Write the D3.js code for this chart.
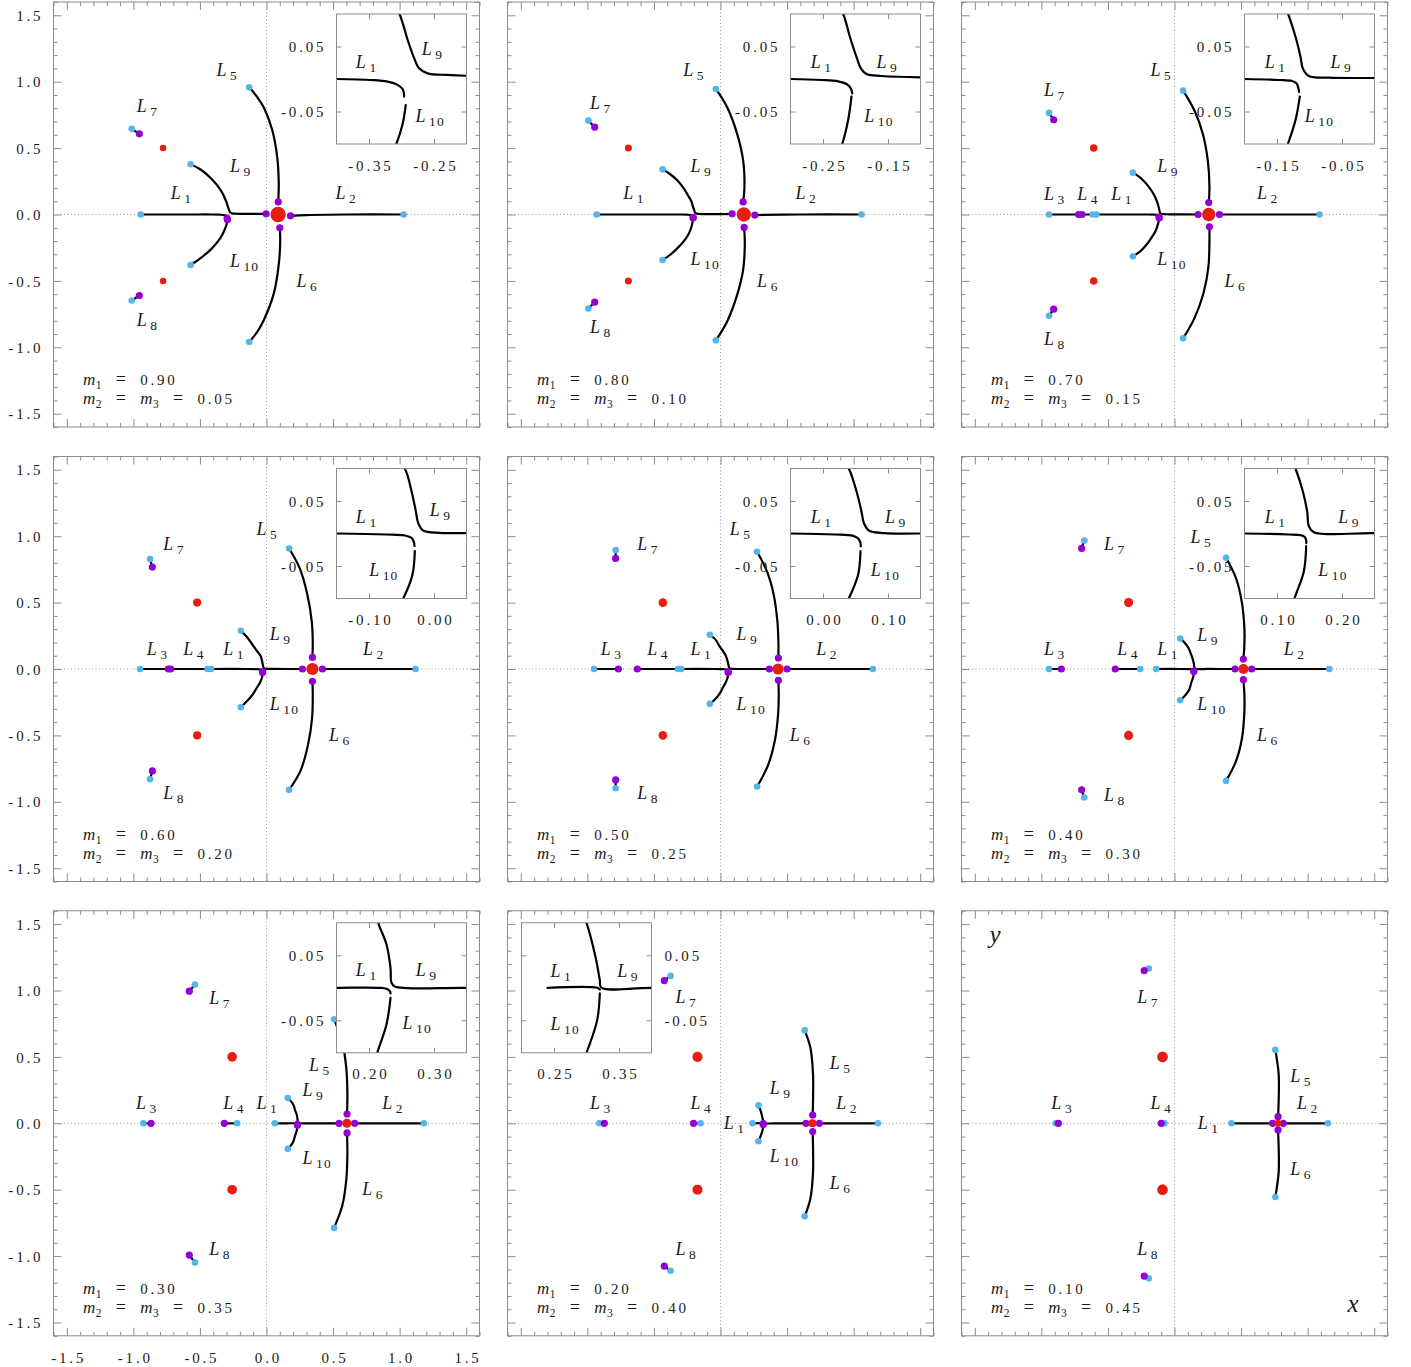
<!DOCTYPE html>
<html>
<head>
<meta charset="utf-8">
<script src="https://cdn.jsdelivr.net/npm/d3@7"></script>
<style>
  body { margin: 0; background: #fff; }
  text { font-family: "Liberation Serif", "Times New Roman", serif; fill: #1a1a1a; }
  .tickText { font-size: 15px; letter-spacing: 2.8px; }
  .lab { font-size: 18px; }
  .zero { stroke: #9a9a9a; stroke-width: 1; stroke-dasharray: 1 2.5; }
  .frame { fill: none; stroke: #8c8c8c; stroke-width: 1; }
  .ticks line { stroke: #8c8c8c; stroke-width: 1; }
  .ticks path { display: none; }
  .locus { fill: none; stroke: #000; stroke-width: 2.2; stroke-linecap: round; stroke-linejoin: round; }
</style>
</head>
<body>
<svg id="chart" width="1411" height="1367"></svg>
<script>
// ---------------------------------------------------------------
// Equilibrium points of the four-body problem (three primaries in
// a Lagrangian triangle).  Nine cases of the mass ratio; in each the
// locus of every equilibrium runs from its classical position (blue)
// to its final position (purple).
// ---------------------------------------------------------------

// primary masses of each panel
const massM1  = [0.90, 0.80, 0.70, 0.60, 0.50, 0.40, 0.30, 0.20, 0.10];
const massM23 = [0.05, 0.10, 0.15, 0.20, 0.25, 0.30, 0.35, 0.40, 0.45];

// positions of the primaries: m1 on the x-axis, m2 and m3 at y = +/-0.5
const primaryM1X  = [0.087, 0.175, 0.257, 0.345, 0.432, 0.518, 0.604, 0.691, 0.777];
const primaryM23X = [-0.777, -0.692, -0.607, -0.521, -0.433, -0.345, -0.258, -0.173, -0.090];
const primaryM23Y = [0.5, -0.5];

// loci of the equilibrium points, one entry per panel (null = absent)
const L1 = [
  [[-0.945,0],[-0.6,0],[-0.4,0],[-0.347,-0.0015],[-0.3215,-0.004],[-0.306,-0.009],[-0.298,-0.016],[-0.296,-0.027]],
  [[-0.93,0],[-0.6,0],[-0.3,0],[-0.2523,-0.0015],[-0.2267,-0.0036],[-0.2138,-0.0077],[-0.2072,-0.0144],[-0.2051,-0.022]],
  [[-0.5875,0],[-0.3,0],[-0.2,0],[-0.1472,-0.0015],[-0.1267,-0.0031],[-0.12,-0.0067],[-0.1174,-0.0128],[-0.116,-0.02]],
  [[-0.4175,0],[-0.15,0],[-0.0731,-0.0015],[-0.0449,-0.0031],[-0.0346,-0.0067],[-0.031,-0.0128],[-0.03,-0.019]],
  [[-0.295,0],[-0.05,0],[0.0182,-0.0015],[0.0464,-0.0036],[0.0541,-0.0077],[0.0577,-0.0144],[0.058,-0.02]],
  [[-0.1375,0],[0.05,0],[0.1182,-0.0015],[0.1362,-0.0026],[0.1428,-0.0056],[0.1449,-0.0103],[0.145,-0.015]],
  [[0.0625,0],[0.15,0],[0.2167,0],[0.2269,-0.0015],[0.2321,-0.0051],[0.2331,-0.0087]],
  [[0.24,0],[0.3164,0],[0.3205,-0.0026]],
  [[0.4275,0],[0.7375,0]]
];
const L2 = [
  [[1.03,0],[0.6,0],[0.3,-0.004],[0.18,-0.01]],
  [[1.06,0],[0.6,0],[0.2575,-0.004]],
  [[1.09,0],[0.6,0],[0.3375,0]],
  [[1.12,0],[0.42,0]],
  [[1.145,0],[0.5,0]],
  [[1.1625,0],[0.58,0]],
  [[1.1825,0],[0.6625,0]],
  [[1.1825,0],[0.7425,0]],
  [[1.1525,0],[0.8175,0]]
];
const L3 = [
  null, null,
  [[-0.9425,0],[-0.72,0]],
  [[-0.95,0],[-0.7375,0]],
  [[-0.95,0],[-0.7675,0]],
  [[-0.9425,0],[-0.85,0]],
  [[-0.925,0],[-0.8675,0]],
  [[-0.91,0],[-0.8725,0]],
  [[-0.8925,0],[-0.8725,0]]
];
const L4 = [
  null, null,
  [[-0.615,0],[-0.695,0]],
  [[-0.4425,0],[-0.72,0]],
  [[-0.32,0],[-0.625,0]],
  [[-0.2575,0],[-0.445,0]],
  [[-0.22,0],[-0.3175,0]],
  [[-0.15,0],[-0.2025,0]],
  [[-0.075,0],[-0.1,0]]
];
const L5 = [
  [[-0.13,0.958],[-0.07,0.885],[-0.02,0.806],[0.043,0.636],[0.08,0.436],[0.092,0.236],[0.088,0.095]],
  [[-0.035,0.945],[0.05,0.8075],[0.125,0.6075],[0.17,0.4075],[0.18,0.2075],[0.17,0.095]],
  [[0.065,0.9325],[0.15,0.7825],[0.2125,0.6075],[0.25,0.4075],[0.2625,0.2075],[0.2575,0.09]],
  [[0.17,0.9075],[0.25,0.7575],[0.3075,0.5575],[0.34,0.3575],[0.3475,0.2075],[0.345,0.0875]],
  [[0.275,0.8825],[0.35,0.7325],[0.4,0.5575],[0.4275,0.3575],[0.435,0.2075],[0.435,0.0825]],
  [[0.3875,0.8375],[0.4625,0.6825],[0.505,0.5075],[0.525,0.3075],[0.525,0.1825],[0.5175,0.075]],
  [[0.5075,0.7825],[0.57,0.6075],[0.6,0.4075],[0.6075,0.2325],[0.605,0.07]],
  [[0.6325,0.7],[0.675,0.57],[0.695,0.37],[0.695,0.17],[0.6925,0.0625]],
  [[0.7575,0.5525],[0.7825,0.37],[0.7825,0.17],[0.7775,0.05]]
];
const L6 = [
  [[-0.13,-0.96],[-0.07,-0.884],[-0.02,-0.794],[0.055,-0.594],[0.093,-0.368],[0.103,-0.2],[0.1,-0.1]],
  [[-0.035,-0.9475],[0.05,-0.805],[0.125,-0.605],[0.17,-0.4175],[0.1825,-0.2175],[0.1775,-0.0975]],
  [[0.065,-0.9325],[0.15,-0.78],[0.2175,-0.5925],[0.255,-0.3925],[0.2625,-0.1925],[0.2625,-0.0925]],
  [[0.17,-0.91],[0.255,-0.7675],[0.3125,-0.5675],[0.3425,-0.3675],[0.3475,-0.1925],[0.345,-0.0925]],
  [[0.275,-0.885],[0.355,-0.73],[0.4075,-0.5425],[0.4325,-0.3425],[0.4375,-0.1925],[0.435,-0.085]],
  [[0.3875,-0.8425],[0.4625,-0.6925],[0.5075,-0.5175],[0.525,-0.3175],[0.525,-0.1925],[0.5175,-0.08]],
  [[0.5075,-0.7875],[0.57,-0.6175],[0.6,-0.4175],[0.6075,-0.2425],[0.605,-0.0725]],
  [[0.6325,-0.7],[0.675,-0.5675],[0.695,-0.3675],[0.695,-0.18],[0.6925,-0.0625]],
  [[0.7575,-0.555],[0.7825,-0.3675],[0.7825,-0.18],[0.7775,-0.05]]
];
const L7 = [
  [[-1.0125,0.645],[-0.955,0.6075]],
  [[-0.9925,0.7075],[-0.945,0.6575]],
  [[-0.9425,0.765],[-0.9075,0.7125]],
  [[-0.875,0.8275],[-0.8575,0.7675]],
  [[-0.7875,0.895],[-0.7875,0.8325]],
  [[-0.6775,0.9675],[-0.6975,0.9075]],
  [[-0.5375,1.045],[-0.58,0.995]],
  [[-0.375,1.11],[-0.4225,1.075]],
  [[-0.1925,1.165],[-0.2275,1.15]]
];
const L8 = [
  [[-1.0125,-0.6475],[-0.955,-0.61]],
  [[-0.9925,-0.7075],[-0.945,-0.66]],
  [[-0.9425,-0.7625],[-0.9075,-0.7125]],
  [[-0.875,-0.83],[-0.8575,-0.7675]],
  [[-0.7875,-0.8975],[-0.7875,-0.835]],
  [[-0.6775,-0.9675],[-0.6975,-0.91]],
  [[-0.5375,-1.0475],[-0.58,-0.9925]],
  [[-0.375,-1.11],[-0.4225,-1.075]],
  [[-0.1925,-1.1675],[-0.2275,-1.15]]
];
const L9 = [
  [[-0.57,0.378],[-0.49,0.335],[-0.41,0.265],[-0.345,0.185],[-0.303,0.1],[-0.2905,0.06],[-0.2805,0.032],[-0.273,0.0164],[-0.26,0.0087],[-0.23,0.0062],[-0.2,0.005],[-0.1,0.005],[-0.003,0.005]],
  [[-0.435,0.34],[-0.38,0.305],[-0.325,0.2575],[-0.275,0.195],[-0.2375,0.1325],[-0.219,0.1],[-0.2087,0.065],[-0.1985,0.034],[-0.1918,0.0164],[-0.1831,0.0077],[-0.16,0.0046],[-0.1,0.0026],[0.0875,0.005]],
  [[-0.3125,0.315],[-0.26,0.28],[-0.2125,0.2325],[-0.17,0.175],[-0.145,0.13],[-0.1328,0.1],[-0.1215,0.065],[-0.1138,0.034],[-0.1103,0.0164],[-0.101,0.0046],[-0.07,0.002],[0.0,0.0015],[0.1775,0.0]],
  [[-0.1925,0.2875],[-0.15,0.245],[-0.11,0.19],[-0.075,0.14],[-0.0449,0.1],[-0.0346,0.0651],[-0.028,0.0344],[-0.0244,0.0164],[-0.0167,0.0046],[0.009,0.001],[0.05,0.0005],[0.27,0.0]],
  [[-0.08,0.2575],[-0.04,0.225],[-0.0125,0.18],[0.015,0.14],[0.0397,0.1],[0.0515,0.065],[0.0592,0.034],[0.0628,0.0164],[0.0705,0.0046],[0.0951,0.0005],[0.15,0],[0.3675,0]],
  [[0.0425,0.23],[0.075,0.2],[0.105,0.1575],[0.1285,0.1],[0.1397,0.065],[0.1464,0.034],[0.149,0.0113],[0.1567,0.0021],[0.25,0.0005],[0.455,0]],
  [[0.16,0.19],[0.185,0.165],[0.205,0.1325],[0.2141,0.1],[0.2269,0.0667],[0.2331,0.0308],[0.2346,0.0077],[0.2397,0.0021],[0.35,0],[0.545,0]],
  [[0.285,0.135],[0.3,0.1],[0.3138,0.0477],[0.3205,0.0118],[0.3226,0.0005],[0.4,0],[0.6425,0]],
  null
];
const L10 = [
  [[-0.57,-0.38],[-0.49,-0.325],[-0.41,-0.255],[-0.345,-0.175],[-0.308,-0.1],[-0.298,-0.068],[-0.2935,-0.04]],
  [[-0.435,-0.3425],[-0.38,-0.305],[-0.325,-0.255],[-0.275,-0.2],[-0.2375,-0.1425],[-0.2205,-0.1],[-0.2113,-0.063],[-0.2062,-0.027]],
  [[-0.3125,-0.315],[-0.26,-0.28],[-0.2125,-0.23],[-0.17,-0.17],[-0.145,-0.13],[-0.1333,-0.1],[-0.1215,-0.063],[-0.1149,-0.027]],
  [[-0.1925,-0.2875],[-0.15,-0.245],[-0.1075,-0.1975],[-0.075,-0.145],[-0.0474,-0.1],[-0.0331,-0.063],[-0.0295,-0.027]],
  [[-0.08,-0.2625],[-0.04,-0.228],[-0.0075,-0.1875],[0.018,-0.14],[0.0397,-0.1],[0.0541,-0.063],[0.0577,-0.027]],
  [[0.0425,-0.235],[0.075,-0.205],[0.1075,-0.1625],[0.1269,-0.1],[0.1413,-0.058],[0.1449,-0.0195]],
  [[0.16,-0.1925],[0.185,-0.165],[0.2025,-0.135],[0.2126,-0.1],[0.2269,-0.0564],[0.2331,-0.0154]],
  [[0.285,-0.135],[0.3,-0.1],[0.3164,-0.0497],[0.3205,-0.0087]],
  null
];

// axis ticks and tick labels
const majorTicks = [-1.5, -1.0, -0.5, 0.0, 0.5, 1.0, 1.5];
const minorTicks = [-1.6,-1.4,-1.3,-1.2,-1.1,-0.9,-0.8,-0.7,-0.6,-0.4,-0.3,-0.2,-0.1,
                    0.1,0.2,0.3,0.4,0.6,0.7,0.8,0.9,1.1,1.2,1.3,1.4,1.6];
// tick labels of the zoomed windows around L1 / L9 / L10
const insetXTicks = [[-0.35,-0.25],[-0.25,-0.15],[-0.15,-0.05],[-0.10,0.00],
                     [0.00,0.10],[0.10,0.20],[0.20,0.30],[0.25,0.35],null];
const insetYTicks = [0.05, -0.05];

// ---------------------------------------------------------------
// layout
// ---------------------------------------------------------------
const loci = [
  {n:"1",pts:L1},{n:"2",pts:L2},{n:"3",pts:L3},{n:"4",pts:L4},{n:"5",pts:L5},
  {n:"6",pts:L6},{n:"7",pts:L7},{n:"8",pts:L8},{n:"9",pts:L9},{n:"10",pts:L10}
];
// label anchors (left edge / baseline of the "L") in data units
const labelAt = {
  "1":[[-0.72,0.12],[-0.73,0.12],[-0.475,0.1075],[-0.325,0.1075],[-0.225,0.1075],[-0.13,0.1075],[-0.075,0.1075],[0.025,-0.0425],[0.175,-0.0425]],
  "2":[[0.5175,0.12],[0.5625,0.12],[0.62,0.12],[0.725,0.1075],[0.72,0.1075],[0.82,0.1075],[0.87,0.1075],[0.87,0.1075],[0.92,0.1075]],
  "3":[null,null,[-0.98,0.1075],[-0.9,0.1075],[-0.9,0.1075],[-0.98,0.1075],[-0.98,0.1075],[-0.98,0.1075],[-0.925,0.1075]],
  "4":[null,null,[-0.73,0.1075],[-0.625,0.1075],[-0.55,0.1075],[-0.43,0.1075],[-0.325,0.1075],[-0.225,0.1075],[-0.18,0.1075]],
  "5":[[-0.375,1.045],[-0.28,1.045],[-0.18,1.045],[-0.075,1.0075],[0.07,1.0075],[0.12,0.945],[0.32,0.395],[0.82,0.4075],[0.87,0.3075]],
  "6":[[0.225,-0.5425],[0.275,-0.5425],[0.375,-0.5425],[0.47,-0.5425],[0.52,-0.5425],[0.62,-0.5425],[0.72,-0.5425],[0.82,-0.4925],[0.87,-0.3925]],
  "7":[[-0.975,0.77],[-0.98,0.795],[-0.98,0.895],[-0.775,0.895],[-0.625,0.895],[-0.53,0.895],[-0.43,0.895],[-0.3375,0.9075],[-0.28,0.9075]],
  "8":[[-0.975,-0.8425],[-0.98,-0.8925],[-0.98,-0.98],[-0.775,-0.98],[-0.625,-0.98],[-0.53,-0.9925],[-0.43,-0.9925],[-0.3375,-0.9925],[-0.28,-0.9925]],
  "9":[[-0.275,0.32],[-0.225,0.32],[-0.13,0.32],[0.025,0.22],[0.12,0.22],[0.17,0.2075],[0.27,0.2075],[0.37,0.22],null],
  "10":[[-0.275,-0.3925],[-0.225,-0.38],[-0.13,-0.38],[0.025,-0.305],[0.12,-0.305],[0.17,-0.305],[0.27,-0.305],[0.37,-0.2925],null]
};
// label anchors inside the zoomed windows, as fractions of the window
const insetLabelAt = [
  {"1":[0.149,0.418],"9":[0.656,0.315],"10":[0.608,0.828]},
  {"1":[0.156,0.418],"9":[0.662,0.418],"10":[0.567,0.828]},
  {"1":[0.156,0.418],"9":[0.662,0.418],"10":[0.464,0.828]},
  {"1":[0.149,0.418],"9":[0.718,0.367],"10":[0.251,0.828]},
  {"1":[0.156,0.418],"9":[0.726,0.418],"10":[0.618,0.828]},
  {"1":[0.156,0.418],"9":[0.721,0.418],"10":[0.567,0.828]},
  {"1":[0.149,0.410],"9":[0.610,0.410],"10":[0.508,0.820]},
  {"1":[0.223,0.415],"9":[0.736,0.415],"10":[0.223,0.826]},
  null
];

const COL = { blue: "#56b4e9", purple: "#9400d3", red: "#e51e10" };
const W = 426, H = 425;
const colLeft = [53.5, 507.5, 961.5];
const rowTop = [2, 456.5, 910.8];
const LS = 2.8; // tick label letter spacing
const NB = "\u00a0"; // non-breaking space for the wide gaps around "="

const fmt = d3.formatLocale({decimal: ".", thousands: ",", grouping: [3], currency: ["", ""], minus: "-"});
const f1 = fmt.format(".1f"), f2 = fmt.format(".2f");

const x = d3.scaleLinear().domain([-1.6, 1.6]).range([0, W]);
const y = d3.scaleLinear().domain([-1.6, 1.6]).range([H, 0]);
const rPrimary = d3.scaleLinear().domain([0, 1]).range([3, 8.2]);

const svg = d3.select("#chart");

function addLLabel(sel, px, py, n) {
  const t = sel.append("text").attr("class", "lab").attr("x", px).attr("y", py);
  t.append("tspan").attr("font-style", "italic").text("L");
  t.append("tspan").attr("dx", 3.5).attr("dy", 4).attr("font-size", 13.5)
    .attr("letter-spacing", 1.2).text(n);
}

// inward ticks on the four sides of a box: x ticks top and bottom, y ticks left and right
function frameTicks(g, sx, sy, w, h, xvals, yvals, len) {
  const mk = (axis, vals, tx, ty) => g.append("g").attr("class", "ticks")
    .attr("transform", `translate(${tx},${ty})`)
    .call(axis.tickValues(vals).tickSize(-len).tickFormat(""));
  mk(d3.axisLeft(sy), yvals, 0, 0);
  mk(d3.axisRight(sy), yvals, w, 0);
  mk(d3.axisBottom(sx), xvals, 0, h);
  mk(d3.axisTop(sx), xvals, 0, 0);
}

// "m_a = m_b = value" with subscripted mass indices
function massText(sel, px, py, parts) {
  const t = sel.append("text").attr("x", px).attr("y", py);
  let lowered = false;
  const restore = () => { const d = lowered ? -4 : 0; lowered = false; return d; };
  parts.forEach(p => {
    if (p.m) {
      t.append("tspan").attr("font-style", "italic").attr("font-size", 17).attr("letter-spacing", 0.4)
        .attr("dy", restore()).text("m");
      t.append("tspan").attr("font-size", 11.5).attr("dy", 4).text(p.m);
      lowered = true;
    } else if (p.eq) {
      t.append("tspan").attr("dy", restore()).attr("letter-spacing", 2).text(NB + NB);
      t.append("tspan").attr("font-size", 18).text("=");
      t.append("tspan").attr("letter-spacing", 2).text(NB + NB);
    } else {
      t.append("tspan").attr("dy", restore()).text(p.s);
    }
  });
}

massM1.forEach((m1, i) => {
  const col = i % 3, row = Math.floor(i / 3);
  const g = svg.append("g").attr("transform", `translate(${colLeft[col]},${rowTop[row]})`);

  // coordinate axes
  g.append("line").attr("class", "zero").attr("x1", 0).attr("x2", W).attr("y1", y(0)).attr("y2", y(0));
  g.append("line").attr("class", "zero").attr("x1", x(0)).attr("x2", x(0)).attr("y1", 0).attr("y2", H);

  // frame with inward ticks
  frameTicks(g, x, y, W, H, minorTicks, minorTicks, 4);
  frameTicks(g, x, y, W, H, majorTicks, majorTicks, 8);
  g.append("rect").attr("class", "frame").attr("width", W).attr("height", H);

  // tick labels on the outer panels
  if (col === 0) {
    g.append("g").attr("class", "ticks tickText")
      .call(d3.axisLeft(y).tickValues(majorTicks).tickSize(0).tickPadding(13).tickFormat(f1))
      .selectAll("text").attr("dx", LS).attr("dy", "0.34em");
  }
  if (row === 2 && col === 0) {
    g.append("g").attr("class", "ticks tickText").attr("transform", `translate(0,${H})`)
      .call(d3.axisBottom(x).tickValues(majorTicks).tickSize(0).tickPadding(17).tickFormat(f1))
      .selectAll("text").attr("dx", LS / 2);
  }

  // loci
  const line = d3.line().curve(d3.curveCatmullRom.alpha(0.5)).x(d => x(d[0])).y(d => y(d[1]));
  const present = loci.filter(L => L.pts[i]);
  g.append("g").selectAll("path").data(present).join("path")
    .attr("class", "locus").attr("d", L => line(L.pts[i]));
  g.append("g").selectAll("circle").data(present).join("circle")
    .attr("cx", L => x(L.pts[i][0][0])).attr("cy", L => y(L.pts[i][0][1]))
    .attr("r", 3.3).attr("fill", COL.blue);
  g.append("g").selectAll("circle").data(present).join("circle")
    .attr("cx", L => x(L.pts[i][L.pts[i].length - 1][0]))
    .attr("cy", L => y(L.pts[i][L.pts[i].length - 1][1]))
    .attr("r", 3.6).attr("fill", COL.purple);

  // primaries
  const prim = [
    {px: primaryM1X[i], py: 0, m: massM1[i]},
    ...primaryM23Y.map(py => ({px: primaryM23X[i], py, m: massM23[i]}))
  ];
  g.append("g").selectAll("circle").data(prim).join("circle")
    .attr("cx", d => x(d.px)).attr("cy", d => y(d.py)).attr("r", d => rPrimary(d.m))
    .attr("fill", COL.red);

  // labels of the equilibria
  Object.keys(labelAt).forEach(n => {
    const p = labelAt[n][i];
    if (p) addLLabel(g, x(p[0]), y(p[1]), n);
  });

  // masses
  const mt = g.append("g").attr("class", "tickText");
  massText(mt, 29.5, 383, [{m: "1"}, {eq: true}, {s: f2(massM1[i])}]);
  massText(mt, 29.5, 402, [{m: "2"}, {eq: true}, {m: "3"}, {eq: true}, {s: f2(massM23[i])}]);

  // axis names on the last panel
  if (i === 8) {
    g.append("text").attr("x", x(-1.39)).attr("y", y(1.36)).attr("font-size", 25)
      .attr("font-style", "italic").text("y");
    g.append("text").attr("x", x(1.3)).attr("y", y(-1.42)).attr("font-size", 25)
      .attr("font-style", "italic").text("x");
  }

  // zoomed window around the junction of L1, L9 and L10
  const xt = insetXTicks[i];
  if (xt) {
    const S = 130;
    const onLeft = (i === 7);
    const ix0 = onLeft ? 14 : 283, iy0 = 12;
    const xi = d3.scaleLinear().domain([xt[0] - 0.05, xt[1] + 0.05]).range([0, S]);
    const yi = d3.scaleLinear().domain([-0.1, 0.1]).range([S, 0]);
    const ig = g.append("g").attr("transform", `translate(${ix0},${iy0})`);
    ig.append("rect").attr("width", S).attr("height", S).attr("fill", "#fff");
    const cid = "clipInset" + i;
    ig.append("clipPath").attr("id", cid).append("rect").attr("width", S).attr("height", S);
    const iline = d3.line().curve(d3.curveCatmullRom.alpha(0.5)).x(d => xi(d[0])).y(d => yi(d[1]));
    ig.append("g").attr("clip-path", `url(#${cid})`).selectAll("path")
      .data([L1, L9, L10].filter(p => p[i])).join("path")
      .attr("class", "locus").attr("stroke-width", 2).attr("d", p => iline(p[i]));
    frameTicks(ig, xi, yi, S, S, xt, insetYTicks, 5);
    ig.append("rect").attr("class", "frame").attr("stroke", "#777").attr("width", S).attr("height", S);
    if (onLeft) {
      ig.append("g").attr("class", "ticks tickText").attr("transform", `translate(${S},0)`)
        .call(d3.axisRight(yi).tickValues(insetYTicks).tickSize(0).tickPadding(13).tickFormat(f2))
        .selectAll("text").attr("dy", "0.34em");
    } else {
      ig.append("g").attr("class", "ticks tickText")
        .call(d3.axisLeft(yi).tickValues(insetYTicks).tickSize(0).tickPadding(13).tickFormat(f2))
        .selectAll("text").attr("dx", LS).attr("dy", "0.34em");
    }
    ig.append("g").attr("class", "ticks tickText").attr("transform", `translate(0,${S})`)
      .call(d3.axisBottom(xi).tickValues(xt).tickSize(0).tickPadding(16).tickFormat(f2))
      .selectAll("text").attr("dx", LS / 2);
    const il = insetLabelAt[i];
    Object.keys(il).forEach(n => addLLabel(ig, il[n][0] * S, il[n][1] * S, n));
  }
});
</script>
</body>
</html>
